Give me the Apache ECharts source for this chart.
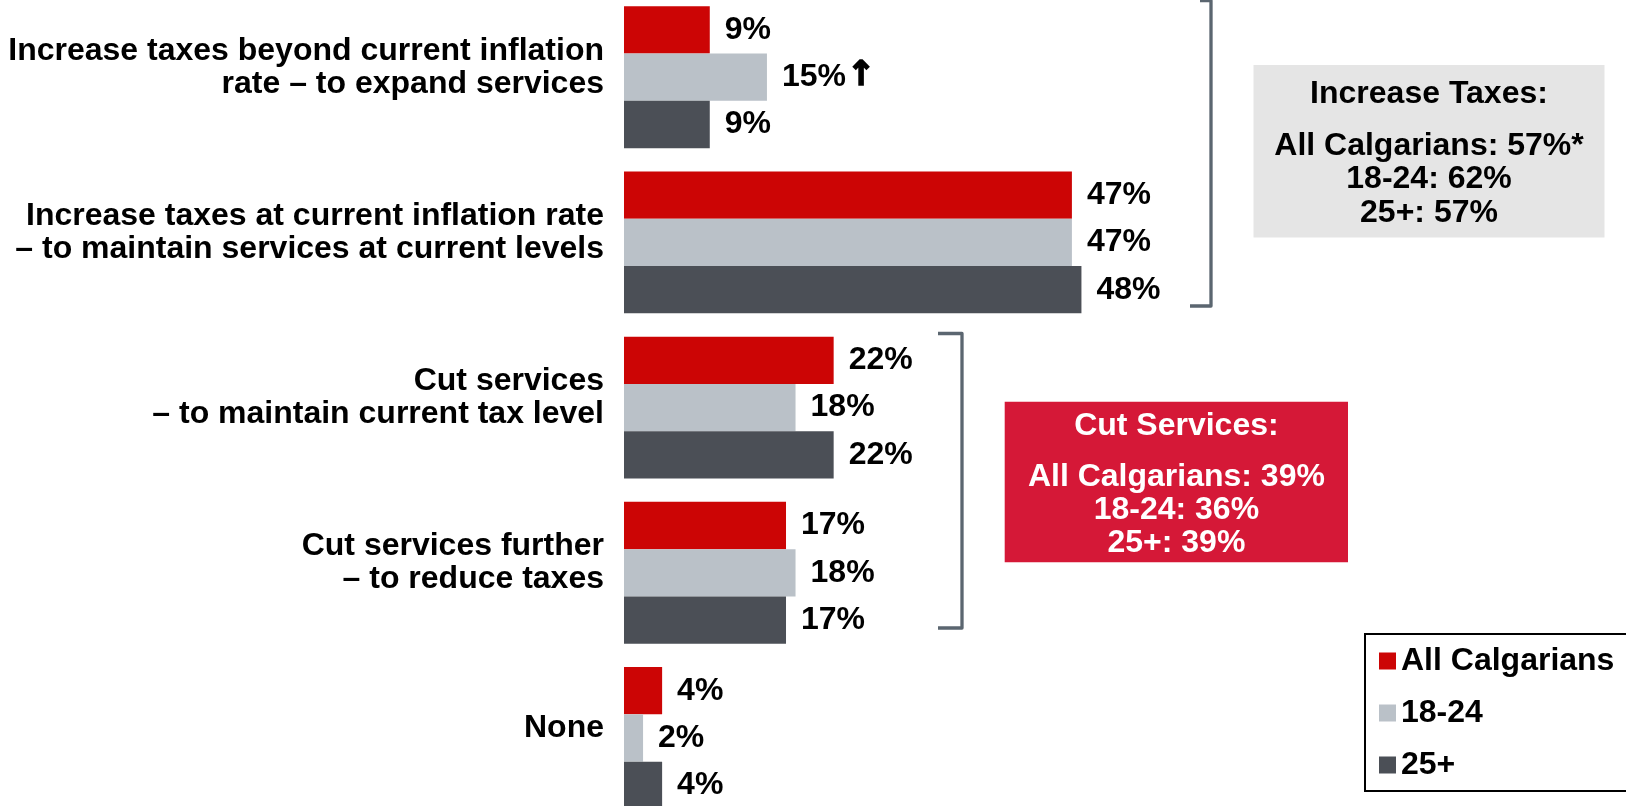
<!DOCTYPE html>
<html>
<head>
<meta charset="utf-8">
<script src="https://cdn.jsdelivr.net/npm/echarts@6/dist/echarts.min.js"></script>
<style>
html,body{margin:0;padding:0;background:#fff;overflow:hidden;width:1626px;height:806px;}
#chart{width:1626px;height:850px;margin-top:-10px;}
</style>
</head>
<body>
<div id="chart"></div>
<script>
const categories = [
  'Increase taxes beyond current inflation\nrate – to expand services',
  'Increase taxes at current inflation rate\n– to maintain services at current levels',
  'Cut services\n– to maintain current tax level',
  'Cut services further\n– to reduce taxes',
  'None'
];
const seriesNames = ['All Calgarians', '18-24', '25+'];
const allCalgarians = [9, 47, 22, 17, 4];
const age18to24 = [15, 47, 18, 18, 2];
const age25plus = [9, 48, 22, 17, 4];
const sigMarks18to24 = ['↑', '', '', '', ''];

const increaseTaxesBox = ['Increase Taxes:', 'All Calgarians: 57%*', '18-24: 62%', '25+: 57%'];
const cutServicesBox = ['Cut Services:', 'All Calgarians: 39%', '18-24: 36%', '25+: 39%'];

const colors = ['#cc0505', '#bac1c8', '#4b4f56'];
const FONT = 'Liberation Sans, Arial, sans-serif';
const FS = 32;
const OY = 10; // chart div is shifted up by this many px

const chart = echarts.init(document.getElementById('chart'), null, {renderer: 'canvas'});

function labelCfg(marks) {
  return {
    show: true,
    position: 'right',
    distance: 15,
    color: '#000',
    fontWeight: 'bold',
    fontSize: FS,
    fontFamily: FONT,
    formatter: p => {
      const m = marks ? marks[p.dataIndex] : '';
      return '{v|' + p.value + '%}' + (m ? '{m|' + m + '}' : '');
    },
    rich: {
      v: {color: '#000', fontWeight: 'bold', fontSize: FS, fontFamily: FONT},
      m: {color: '#000', fontWeight: 'bold', fontSize: 34, fontFamily: 'DejaVu Sans, sans-serif',
          textBorderColor: '#000', textBorderWidth: 1.6, padding: [0, 0, 3, 1]}
    }
  };
}

function boxTexts(lines, cx, ys, color) {
  return lines.map((t, i) => ({
    type: 'text',
    z: 10,
    style: {
      text: t, x: cx, y: ys[i] + OY,
      fill: color,
      font: 'bold ' + FS + 'px ' + FONT,
      textAlign: 'center', textVerticalAlign: 'middle', verticalAlign: 'middle'
    }
  }));
}

const option = {
  animation: false,
  backgroundColor: '#fff',
  grid: {left: 624, top: -5.4 + OY, width: 953, height: 826, containLabel: false},
  xAxis: {type: 'value', min: 0, max: 100, show: false},
  yAxis: {
    type: 'category', data: categories, inverse: true,
    axisLine: {show: false}, axisTick: {show: false}, splitLine: {show: false},
    axisLabel: {
      margin: 20, align: 'right',
      formatter: v => v.split('\n').map(l => '{a|' + l + '}').join('\n') + '\n{s| }',
      rich: {
        a: {color: '#000', fontWeight: 'bold', fontSize: FS, fontFamily: FONT, lineHeight: 33, align: 'right'},
        s: {fontSize: 4, lineHeight: 20}
      }
    }
  },
  legend: {
    orient: 'vertical', left: 1365, top: 634 + OY,
    data: seriesNames,
    icon: 'rect', itemWidth: 17, itemHeight: 17, itemGap: 20,
    padding: [11, 40, 10, 14],
    borderColor: '#000', borderWidth: 2, backgroundColor: '#fff',
    textStyle: {color: '#000', fontWeight: 'bold', fontSize: FS, fontFamily: FONT, lineHeight: 31}
  },
  series: [
    {name: seriesNames[0], type: 'bar', data: allCalgarians, barWidth: 47.3, barGap: '0%',
     itemStyle: {color: colors[0]}, label: labelCfg(null)},
    {name: seriesNames[1], type: 'bar', data: age18to24, barWidth: 47.3, barGap: '0%',
     itemStyle: {color: colors[1]}, label: labelCfg(sigMarks18to24)},
    {name: seriesNames[2], type: 'bar', data: age25plus, barWidth: 47.3, barGap: '0%',
     itemStyle: {color: colors[2]}, label: labelCfg(null)}
  ],
  graphic: [
    {type: 'polyline', z: 5, shape: {points: [[1200, 0.5 + OY], [1211, 0.5 + OY], [1211, 306 + OY], [1190, 306 + OY]]},
     style: {stroke: '#5b6670', lineWidth: 3.3, fill: null, lineJoin: 'round'}},
    {type: 'polyline', z: 5, shape: {points: [[938, 333.5 + OY], [962, 333.5 + OY], [962, 628 + OY], [938, 628 + OY]]},
     style: {stroke: '#5b6670', lineWidth: 3.3, fill: null, lineJoin: 'round'}},
    {type: 'rect', z: 5, shape: {x: 1253.5, y: 65 + OY, width: 351, height: 172.5},
     style: {fill: '#e5e5e5'}},
    {type: 'rect', z: 5, shape: {x: 1004.7, y: 401.8 + OY, width: 343.3, height: 160.5},
     style: {fill: '#d51837'}},
    ...boxTexts(increaseTaxesBox, 1429, [94, 146, 179.5, 213.5], '#000'),
    ...boxTexts(cutServicesBox, 1176.4, [426, 476.7, 510, 542.7], '#fff')
  ]
};
chart.setOption(option);
</script>
</body>
</html>
